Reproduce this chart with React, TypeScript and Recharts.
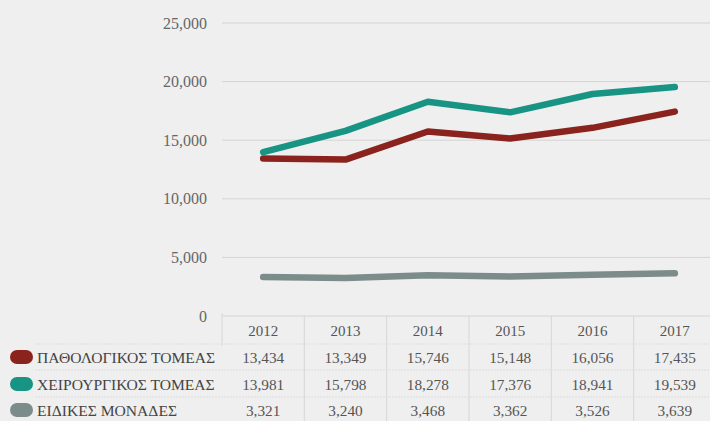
import React from 'react';
import { LineChart, Line, XAxis, YAxis, CartesianGrid } from 'recharts';

const years = ['2012', '2013', '2014', '2015', '2016', '2017'];
const pathology = [13434, 13349, 15746, 15148, 16056, 17435];
const surgery = [13981, 15798, 18278, 17376, 18941, 19539];
const special = [3321, 3240, 3468, 3362, 3526, 3639];
const seriesNames = ['ΠΑΘΟΛΟΓΙΚΟΣ ΤΟΜΕΑΣ', 'ΧΕΙΡΟΥΡΓΙΚΟΣ ΤΟΜΕΑΣ', 'ΕΙΔΙΚΕΣ ΜΟΝΑΔΕΣ'];
const yTicks = [0, 5000, 10000, 15000, 20000, 25000];

const colors = ['#8a221d', '#179483', '#7b8c8a'];
const series = [pathology, surgery, special];
const keys = ['pathology', 'surgery', 'special'];

const data = years.map((y, i) => ({
  year: y,
  pathology: pathology[i],
  surgery: surgery[i],
  special: special[i],
}));

const FONT = 'Liberation Serif';
const fmt = (v: number) => v.toLocaleString('en-US');

const CHART_W = 716;
const Y_W = 222;
const HALF = (CHART_W - Y_W) / years.length / 2;
const ROW_Y = [15, 41, 68, 94];

const TableTick = (props: any) => {
  const { x, y, payload, index } = props;
  return (
    <g>
      <line x1={x + HALF} x2={x + HALF} y1={y} y2={y + 105} stroke="#d6d6d6" strokeWidth={1} />
      {index === 0 && (
        <line x1={x - HALF} x2={x - HALF} y1={y - 3} y2={y + 30} stroke="#d6d6d6" strokeWidth={1} />
      )}
      <text x={x} y={y + ROW_Y[0]} textAnchor="middle" dominantBaseline="central" fontFamily={FONT} fontSize={15} fill="#555">
        {payload.value}
      </text>
      {series.map((s, k) => (
        <text key={k} x={x} y={y + ROW_Y[k + 1]} textAnchor="middle" dominantBaseline="central" fontFamily={FONT} fontSize={15.3} fill="#555">
          {fmt(s[index])}
        </text>
      ))}
    </g>
  );
};

export default function App() {
  return (
    <div style={{ position: 'absolute', left: 0, top: 0, width: 710, height: 421, overflow: 'hidden', background: '#efefef' }}>
      <LineChart width={CHART_W} height={421} data={data} margin={{ top: 23, right: 0, bottom: 0, left: 0 }}>
        <CartesianGrid horizontal vertical={false} stroke="#d4d4d4" />
        <YAxis
          width={Y_W}
          domain={[0, 25000]}
          ticks={yTicks}
          axisLine={false}
          tickLine={false}
          tickSize={0}
          tickMargin={15}
          tickFormatter={fmt}
          tick={{ fontSize: 16, fill: '#666', fontFamily: FONT }}
        />
        <XAxis
          dataKey="year"
          height={105}
          axisLine={false}
          tickLine={false}
          tickSize={0}
          tickMargin={0}
          padding={{ left: HALF, right: HALF }}
          interval={0}
          tick={<TableTick />}
        />
        {keys.map((k, i) => (
          <Line
            key={k}
            dataKey={k}
            stroke={colors[i]}
            strokeWidth={6.5}
            strokeLinecap="round"
            strokeLinejoin="round"
            dot={false}
            isAnimationActive={false}
          />
        ))}
      </LineChart>
      <svg width={710} height={421} style={{ position: 'absolute', left: 0, top: 0, pointerEvents: 'none' }}>
        {[344, 370, 397].map((yy) => (
          <line key={yy} x1={35} x2={710} y1={yy} y2={yy} stroke="#dddddd" strokeWidth={1} strokeDasharray="2 1" />
        ))}
        {seriesNames.map((n, i) => (
          <g key={n}>
            <rect x={10} y={316 + ROW_Y[i + 1] - 7} width={23} height={14} rx={7} fill={colors[i]} />
            <text x={37} y={316 + ROW_Y[i + 1]} dominantBaseline="central" fontFamily={FONT} fontSize={15.6} fill="#444">
              {n}
            </text>
          </g>
        ))}
      </svg>
    </div>
  );
}
